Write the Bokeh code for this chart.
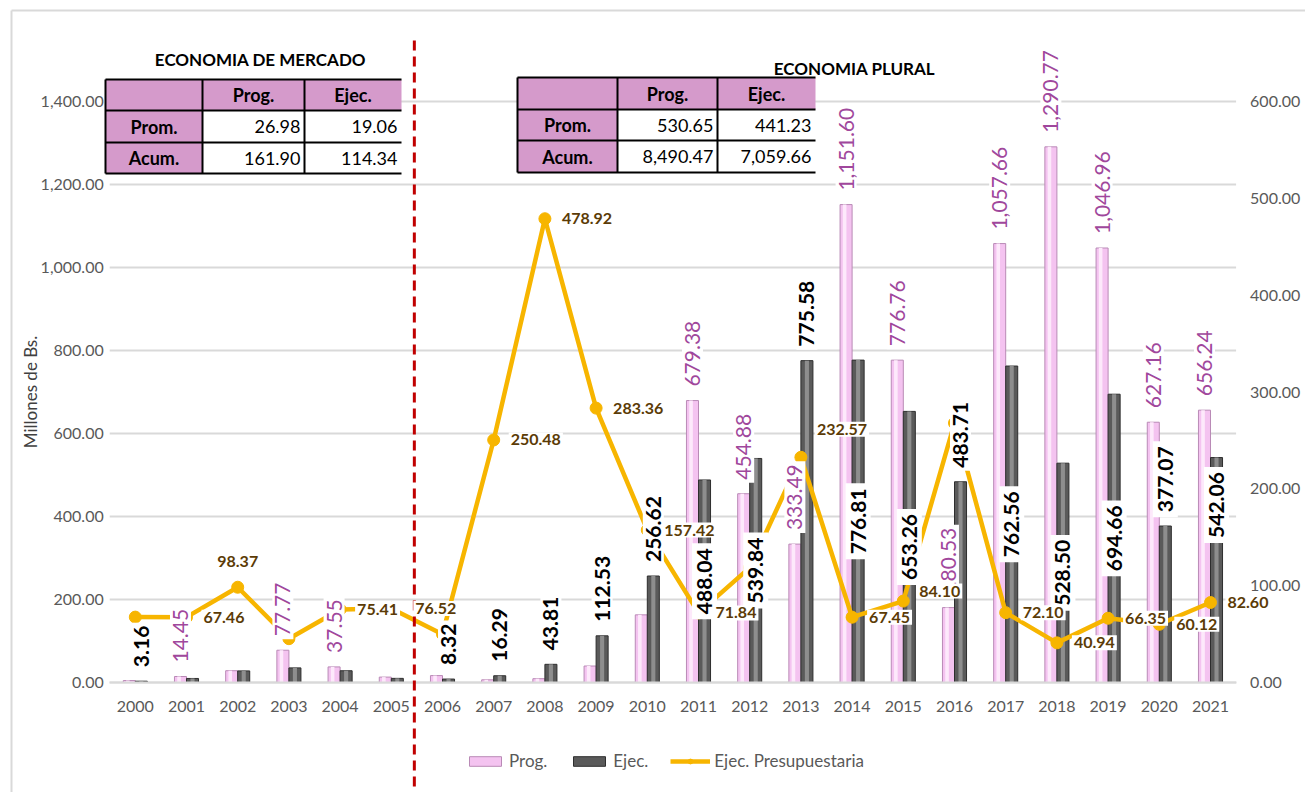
import math
from bokeh.plotting import figure
from bokeh.models import (Range1d, LinearAxis, FixedTicker, NumeralTickFormatter, Label,
                          Legend, LegendItem, Arrow, ColumnDataSource)
from bokeh.core.properties import value
from bokeh.embed import file_html
from bokeh.resources import INLINE

# ---------------- data ----------------
years = [2000, 2001, 2002, 2003, 2004, 2005, 2006, 2007, 2008, 2009, 2010,
         2011, 2012, 2013, 2014, 2015, 2016, 2017, 2018, 2019, 2020, 2021]
prog = [4.68, 14.45, 28.42, 77.77, 37.55, 13.00, 16.66, 6.50, 9.15, 39.71, 163.02,
        679.38, 454.88, 333.49, 1151.60, 776.76, 180.53, 1057.66, 1290.77, 1046.96, 627.16, 656.24]
ejec = [3.16, 9.75, 27.96, 35.20, 28.32, 9.95, 8.32, 16.29, 43.81, 112.53, 256.62,
        488.04, 539.84, 775.58, 776.81, 653.26, 483.71, 762.56, 528.50, 694.66, 377.07, 542.06]
ejec_pres = [67.52, 67.46, 98.37, 45.26, 75.41, 76.52, 49.94, 250.48, 478.92, 283.36, 157.42,
             71.84, 118.68, 232.57, 67.45, 84.10, 267.94, 72.10, 40.94, 66.35, 60.12, 82.60]

left_ticks = [0, 200, 400, 600, 800, 1000, 1200, 1400]
right_ticks = [0, 100, 200, 300, 400, 500, 600]

table_cols = ["Prog.", "Ejec."]
table_rows = ["Prom.", "Acum."]
mercado_prom = [26.98, 19.06]
mercado_acum = [161.90, 114.34]
plural_prom = [530.65, 441.23]
plural_acum = [8490.47, 7059.66]

# which data labels are visible in the reference
prog_label_years = [2001, 2003, 2004, 2011, 2012, 2013, 2014, 2015, 2016, 2017, 2018, 2019, 2020, 2021]
ejec_out_years = [2000, 2006, 2007, 2008, 2009, 2010, 2013, 2016]
ejec_mid_years = [2011, 2012, 2014, 2015, 2017, 2018, 2019, 2020, 2021]
line_label_hidden = [2000, 2003, 2006, 2012, 2016]

# ---------------- styling / layout ----------------
FONT = "Lato"
PINK = "#F4C3F0"
PINK_EDGE = "#B98AB6"
DARK = "#5A5A5A"
DARK_EDGE = "#2E2E2E"
GOLD = "#F7B500"
GRID = "#D9D9D9"
TICK_TXT = "#595959"

W, H = 1305, 792
PAGE_X0, PAGE_Y0 = 0, 0          # canvas origin on the page
X0_PX, X_STEP = 134.8, 51.2      # page x of first category, category spacing
Y0_PX, PX_PER_UNIT = 682.0, 581.0 / 1400.0   # page y of value 0, px per left-axis unit


def to_dx(px):
    return (px - X0_PX) / X_STEP


def to_dy(py):
    return (Y0_PX - py) / PX_PER_UNIT


x_lo, x_hi = to_dx(PAGE_X0), to_dx(PAGE_X0 + W)
y_hi, y_lo = to_dy(PAGE_Y0), to_dy(PAGE_Y0 + H)
R2L = 1400.0 / 600.0

idx = list(range(len(years)))
bw = 0.235

p = figure(width=W, height=H, x_range=Range1d(x_lo, x_hi), y_range=Range1d(y_lo, y_hi),
           output_backend="svg", toolbar_location=None,
           min_border_left=0, min_border_right=0, min_border_top=0, min_border_bottom=0)
p.outline_line_color = None
p.background_fill_color = "white"
p.border_fill_color = "white"
p.extra_y_ranges = {"right": Range1d(y_lo / R2L, y_hi / R2L)}
p.xgrid.visible = False
p.ygrid.visible = False

# axes (fixed inside the frame)
xa = p.xaxis[0]
xa.fixed_location = 0
xa.bounds = (-0.5, 21.5)
xa.ticker = FixedTicker(ticks=idx)
xa.major_label_overrides = {i: str(y) for i, y in zip(idx, years)}
xa.axis_line_color = GRID
xa.axis_line_width = 2
xa.major_tick_line_color = None
xa.minor_tick_line_color = None
xa.major_tick_out = 0
xa.major_tick_in = 0
xa.major_label_standoff = 18
xa.major_label_text_font = FONT
xa.major_label_text_font_size = "16px"
xa.major_label_text_color = TICK_TXT

ya = p.yaxis[0]
ya.fixed_location = -0.5
ya.bounds = (0, 1400)
ya.ticker = FixedTicker(ticks=left_ticks)
ya.formatter = NumeralTickFormatter(format="0,0.00")
ya.axis_line_color = None
ya.major_tick_line_color = None
ya.minor_tick_line_color = None
ya.major_tick_out = 0
ya.major_tick_in = 0
ya.major_label_standoff = 6
ya.major_label_text_font = FONT
ya.major_label_text_font_size = "16px"
ya.major_label_text_color = TICK_TXT
ya.axis_label = "Millones de Bs."
ya.axis_label_standoff = -4
ya.axis_label_text_font = FONT
ya.axis_label_text_font_size = "17px"
ya.axis_label_text_font_style = "normal"
ya.axis_label_text_color = "#404040"

ra = LinearAxis(y_range_name="right", ticker=FixedTicker(ticks=right_ticks), bounds=(0, 600),
                formatter=NumeralTickFormatter(format="0,0.00"), fixed_location=21.5)
ra.axis_line_color = None
ra.major_tick_line_color = None
ra.minor_tick_line_color = None
ra.major_tick_out = 0
ra.major_tick_in = 0
ra.major_label_standoff = 14
ra.major_label_text_font = FONT
ra.major_label_text_font_size = "16px"
ra.major_label_text_color = TICK_TXT
p.add_layout(ra, "right")

# horizontal gridlines across the plot area only
p.segment(x0=[-0.5] * len(left_ticks), x1=[21.5] * len(left_ticks), y0=left_ticks, y1=left_ticks,
          line_color=GRID, line_width=2)

# light chart border (top and left edges visible in the reference)
p.multi_line(xs=[[to_dx(11), to_dx(1306)], [to_dx(11), to_dx(11)]],
             ys=[[to_dy(10), to_dy(10)], [to_dy(10), to_dy(793)]],
             line_color="#D9D9D9", line_width=2)

# ---------------- bars ----------------
src = ColumnDataSource(dict(
    xp=[i - bw / 2 for i in idx], xd=[i + bw / 2 for i in idx],
    xph=[i - bw / 2 - bw * 0.12 for i in idx], xdh=[i + bw / 2 for i in idx],
    prog=prog, ejec=ejec))

r_prog = p.vbar(x="xp", top="prog", width=bw, source=src, fill_color=PINK,
                line_color=PINK_EDGE, line_width=1)
p.vbar(x="xph", top="prog", width=bw * 0.3, source=src, fill_color="#FDE9FB", line_color=None)
r_ejec = p.vbar(x="xd", top="ejec", width=bw, source=src, fill_color=DARK,
                line_color=DARK_EDGE, line_width=1)
p.vbar(x="xdh", top="ejec", width=bw * 0.34, source=src, fill_color="#8E8E8E", line_color=None)

# ---------------- line ----------------
lsrc = ColumnDataSource(dict(x=idx, y=ejec_pres))
r_line = p.line(x="x", y="y", source=lsrc, y_range_name="right", line_color=GOLD, line_width=4.5)
r_pts = p.scatter(x="x", y="y", source=lsrc, y_range_name="right", marker="circle", size=12,
                  fill_color=GOLD, line_color=GOLD)


# ---------------- tables ----------------
def draw_table(xs_px, ys_px, title, title_px, prom, acum, fmt):
    xs = [to_dx(v) for v in xs_px]
    ys = [to_dy(v) for v in ys_px]
    lefts, rights, tops, bottoms, colors = [], [], [], [], []
    for r in range(3):
        for c in range(3):
            lefts.append(xs[c]); rights.append(xs[c + 1])
            tops.append(ys[r]); bottoms.append(ys[r + 1])
            colors.append("#D59ACB" if (r == 0 or c == 0) else "white")
    p.quad(left=lefts, right=rights, top=tops, bottom=bottoms, fill_color=colors, line_color=None)
    segx, segy = [], []
    for yv in ys:
        segx.append([xs[0], xs[3]]); segy.append([yv, yv])
    for xv in xs[:3]:
        segx.append([xv, xv]); segy.append([ys[0], ys[3]])
    p.multi_line(xs=segx, ys=segy, line_color="black", line_width=2)
    hx = [(xs[1] + xs[2]) / 2, (xs[2] + xs[3]) / 2]
    hy = (ys[0] + ys[1]) / 2
    p.text(x=hx, y=[hy, hy], text=table_cols, text_font=value(FONT), text_font_size="18px",
           text_font_style="bold", text_align="center", text_baseline="middle", text_color="black")
    ry = [(ys[1] + ys[2]) / 2, (ys[2] + ys[3]) / 2]
    cx = (xs[0] + xs[1]) / 2
    p.text(x=[cx, cx], y=ry, text=table_rows, text_font=value(FONT), text_font_size="18px",
           text_font_style="bold", text_align="center", text_baseline="middle", text_color="black")
    vals = [fmt(prom[0]), fmt(prom[1]), fmt(acum[0]), fmt(acum[1])]
    vx = [xs[2], xs[3], xs[2], xs[3]]
    vy = [ry[0], ry[0], ry[1], ry[1]]
    p.text(x=vx, y=vy, text=vals, x_offset=-4, text_font=value(FONT), text_font_size="18px",
           text_align="right", text_baseline="middle", text_color="black")
    p.text(x=[to_dx(title_px[0])], y=[to_dy(title_px[1])], text=[title], text_font=value(FONT),
           text_font_size="17px", text_font_style="bold", text_align="center",
           text_baseline="middle", text_color="black")


fmt2 = lambda v: f"{v:,.2f}"
draw_table([105, 202, 304, 401], [79, 110, 142, 173], "ECONOMIA DE MERCADO", (260, 59),
           mercado_prom, mercado_acum, fmt2)
draw_table([517, 617, 717, 815], [77, 109, 140, 172], "ECONOMIA PLURAL", (854, 68),
           plural_prom, plural_acum, fmt2)

# ---------------- separator line ----------------
p.add_layout(Arrow(end=None, x_start=5.45, y_start=to_dy(40), x_end=5.45, y_end=to_dy(792),
                   line_color="#C00000", line_width=3, line_dash="10 6"))

# ---------------- data labels ----------------
for i, y in enumerate(years):
    if y in prog_label_years:
        p.add_layout(Label(x=i - bw / 2, y=prog[i], text=fmt2(prog[i]), angle=math.pi / 2,
                           text_align="left", text_baseline="middle", y_offset=11,
                           text_font=FONT, text_font_size="21px", text_color="#A0479C",
                           background_fill_color="white", padding=3))

ejec_extra = {2020: 125, 2021: 65}
for i, y in enumerate(years):
    if y in ejec_out_years:
        p.add_layout(Label(x=i + bw / 2, y=ejec[i], text=fmt2(ejec[i]), angle=math.pi / 2,
                           text_align="left", text_baseline="middle", y_offset=11,
                           text_font=FONT, text_font_size="21px", text_font_style="bold",
                           text_color="black", background_fill_color="white", padding=3))
    elif y in ejec_mid_years:
        p.add_layout(Label(x=i + bw / 2, y=ejec[i] / 2, text=fmt2(ejec[i]), angle=math.pi / 2,
                           text_align="center", text_baseline="middle",
                           y_offset=ejec_extra.get(y, 0),
                           text_font=FONT, text_font_size="21px", text_font_style="bold",
                           text_color="black", background_fill_color="white", padding=5))

line_shift = {2002: (0, 26, "center"), 2005: (22, 0, "left"), 2013: (14, 28, "left"),
              2015: (14, 10, "left")}
for i, y in enumerate(years):
    if y in line_label_hidden:
        continue
    dx, dy, al = line_shift.get(y, (15, 0, "left"))
    p.add_layout(Label(x=i, y=ejec_pres[i] * R2L, text=fmt2(ejec_pres[i]), x_offset=dx, y_offset=dy,
                       text_align=al, text_baseline="middle", text_font=FONT, text_font_size="16px",
                       text_font_style="bold", text_color="#5B3B06",
                       background_fill_color="white", padding=2))

# ---------------- legend ----------------
legend = Legend(items=[LegendItem(label="Prog.", renderers=[r_prog]),
                       LegendItem(label="Ejec.", renderers=[r_ejec]),
                       LegendItem(label="Ejec. Presupuestaria", renderers=[r_line, r_pts])],
                location=(465, 21), orientation="horizontal", glyph_width=40, glyph_height=12,
                label_text_font=FONT, label_text_font_size="17px", label_text_color=TICK_TXT,
                border_line_color=None, background_fill_alpha=0, spacing=22, label_standoff=4,
                padding=0, margin=0)
p.add_layout(legend)

open("out.html", "w").write(file_html(p, INLINE))
